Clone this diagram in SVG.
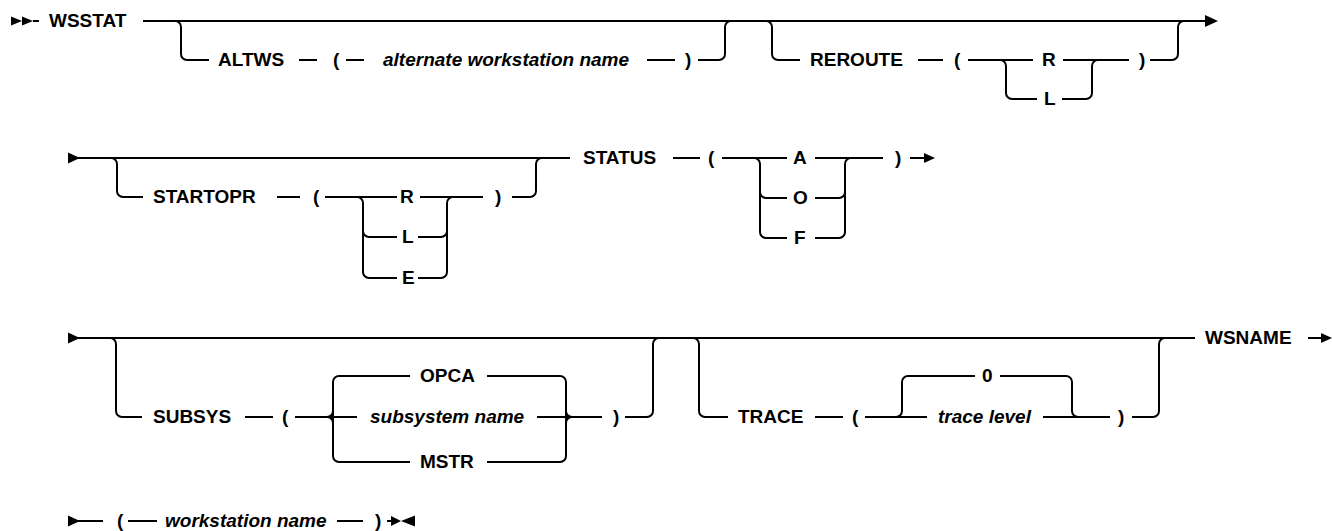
<svg xmlns="http://www.w3.org/2000/svg" width="1332" height="531" viewBox="0 0 1332 531">
<style>
.t{font-family:"Liberation Sans",Arial,sans-serif;font-size:19px;font-weight:bold;fill:#000}
.i{font-style:italic}
.c path,.c line{fill:none;stroke:#000;stroke-width:2}
.a{fill:#000;stroke:none}
</style>
<rect width="1332" height="531" fill="#fff"/>
<g id="connectors" class="c">
<!-- row 1 -->
<line x1="33" y1="21" x2="39" y2="21"/>
<line x1="143" y1="21" x2="1206" y2="21"/>
<path d="M175,21 a6,6 0 0 1 6,6 V54 a6,6 0 0 0 6,6 H209"/>
<line x1="299" y1="60" x2="317" y2="60"/>
<line x1="346" y1="60" x2="364" y2="60"/>
<line x1="647" y1="60" x2="675" y2="60"/>
<path d="M698,60 H719 a6,6 0 0 0 6,-6 V27 a6,6 0 0 1 6,-6"/>
<path d="M766,21 a6,6 0 0 1 6,6 V54 a6,6 0 0 0 6,6 H800"/>
<line x1="918" y1="60" x2="943" y2="60"/>
<line x1="968" y1="60" x2="1033" y2="60"/>
<path d="M1000,60 a6,6 0 0 1 6,6 V93 a6,6 0 0 0 6,6 H1037"/>
<path d="M1062,99 H1086 a6,6 0 0 0 6,-6 V66 a6,6 0 0 1 6,-6"/>
<line x1="1063" y1="60" x2="1129" y2="60"/>
<path d="M1150,60 H1172 a6,6 0 0 0 6,-6 V27 a6,6 0 0 1 6,-6"/>
<!-- row 2 -->
<line x1="78" y1="158" x2="570" y2="158"/>
<path d="M111,158 a6,6 0 0 1 6,6 V191 a6,6 0 0 0 6,6 H143"/>
<line x1="277" y1="197" x2="300" y2="197"/>
<line x1="325" y1="197" x2="397" y2="197"/>
<path d="M357,197 a6,6 0 0 1 6,6 V272 a6,6 0 0 0 6,6 H397"/>
<path d="M363,231 a6,6 0 0 0 6,6 H397"/>
<line x1="420" y1="197" x2="483" y2="197"/>
<path d="M418,278 H441 a6,6 0 0 0 6,-6 V203 a6,6 0 0 1 6,-6"/>
<path d="M418,237 H441 a6,6 0 0 0 6,-6"/>
<path d="M512,197 H530 a6,6 0 0 0 6,-6 V164 a6,6 0 0 1 6,-6"/>
<line x1="673" y1="158" x2="700" y2="158"/>
<line x1="722" y1="158" x2="787" y2="158"/>
<path d="M754,158 a6,6 0 0 1 6,6 V232 a6,6 0 0 0 6,6 H787"/>
<path d="M760,192 a6,6 0 0 0 6,6 H787"/>
<line x1="815" y1="158" x2="883" y2="158"/>
<path d="M815,238 H839 a6,6 0 0 0 6,-6 V164 a6,6 0 0 1 6,-6"/>
<path d="M815,198 H839 a6,6 0 0 0 6,-6"/>
<line x1="910" y1="158" x2="926" y2="158"/>
<!-- row 3 -->
<line x1="78" y1="338" x2="1195" y2="338"/>
<path d="M110,338 a6,6 0 0 1 6,6 V411 a6,6 0 0 0 6,6 H142"/>
<line x1="245" y1="417" x2="273" y2="417"/>
<line x1="295" y1="417" x2="357" y2="417"/>
<path d="M410,376 H339 a6,6 0 0 0 -6,6 V456 a6,6 0 0 0 6,6 H410"/>
<path d="M327,417 a6,6 0 0 0 6,-6 M327,417 a6,6 0 0 1 6,6"/>
<path d="M487,376 H560 a6,6 0 0 1 6,6 V456 a6,6 0 0 1 -6,6 H487"/>
<path d="M572,417 a6,6 0 0 1 -6,-6 M572,417 a6,6 0 0 0 -6,6"/>
<line x1="537" y1="417" x2="602" y2="417"/>
<path d="M625,417 H647 a6,6 0 0 0 6,-6 V344 a6,6 0 0 1 6,-6"/>
<path d="M693,338 a6,6 0 0 1 6,6 V411 a6,6 0 0 0 6,6 H728"/>
<line x1="815" y1="417" x2="843" y2="417"/>
<line x1="865" y1="417" x2="927" y2="417"/>
<path d="M896,417 a6,6 0 0 0 6,-6 V382 a6,6 0 0 1 6,-6 H975"/>
<path d="M1000,376 H1066 a6,6 0 0 1 6,6 V411 a6,6 0 0 0 6,6"/>
<line x1="1043" y1="417" x2="1110" y2="417"/>
<path d="M1132,417 H1153 a6,6 0 0 0 6,-6 V344 a6,6 0 0 1 6,-6"/>
<line x1="1308" y1="338" x2="1322" y2="338"/>
<!-- row 4 -->
<line x1="78" y1="521" x2="103" y2="521"/>
<line x1="128" y1="521" x2="157" y2="521"/>
<line x1="337" y1="521" x2="363" y2="521"/>
<line x1="387" y1="521" x2="394" y2="521"/>
</g>
<g id="arrows">
<polygon class="a" points="11,16.5 22,21 11,25.5"/>
<polygon class="a" points="22,16.5 33,21 22,25.5"/>
<polygon class="a" points="1205,15 1218,21 1205,27"/>
<polygon class="a" points="68,152.5 80,158 68,163.5"/>
<polygon class="a" points="924,153 935,158 924,163"/>
<polygon class="a" points="68,332.5 80,338 68,343.5"/>
<polygon class="a" points="1321,333 1332,338 1321,343"/>
<polygon class="a" points="68,515.5 80,521 68,526.5"/>
<polygon class="a" points="391,516 401,521 391,526"/>
<polygon class="a" points="415,515.5 401,521 415,526.5"/>
</g>
<g id="n-wsstat"><text class="t" x="49" y="27">WSSTAT</text></g>
<g id="n-altws"><text class="t" x="218" y="66">ALTWS</text><text class="t" x="333" y="66">(</text><text class="t i" x="383" y="66">alternate workstation name</text><text class="t" x="685" y="66">)</text></g>
<g id="n-reroute"><text class="t" x="810" y="66">REROUTE</text><text class="t" x="954" y="66">(</text><text class="t" x="1042" y="66">R</text><text class="t" x="1044" y="105">L</text><text class="t" x="1139" y="66">)</text></g>
<g id="n-startopr"><text class="t" x="153" y="203">STARTOPR</text><text class="t" x="313" y="203">(</text><text class="t" x="400" y="203">R</text><text class="t" x="402" y="243">L</text><text class="t" x="402" y="284">E</text><text class="t" x="495" y="203">)</text></g>
<g id="n-status"><text class="t" x="583" y="164">STATUS</text><text class="t" x="708" y="164">(</text><text class="t" x="793" y="164">A</text><text class="t" x="793" y="204">O</text><text class="t" x="794" y="244">F</text><text class="t" x="895" y="164">)</text></g>
<g id="n-subsys"><text class="t" x="153" y="423">SUBSYS</text><text class="t" x="282" y="423">(</text><text class="t" x="420" y="382">OPCA</text><text class="t i" x="370" y="423">subsystem name</text><text class="t" x="420" y="468">MSTR</text><text class="t" x="613" y="423">)</text></g>
<g id="n-trace"><text class="t" x="738" y="423">TRACE</text><text class="t" x="852" y="423">(</text><text class="t" x="982" y="382">0</text><text class="t i" x="938" y="423">trace level</text><text class="t" x="1118" y="423">)</text></g>
<g id="n-wsname"><text class="t" x="1205" y="344">WSNAME</text></g>
<g id="n-ws"><text class="t" x="117" y="527">(</text><text class="t i" x="165" y="527">workstation name</text><text class="t" x="375" y="527">)</text></g>
</svg>
